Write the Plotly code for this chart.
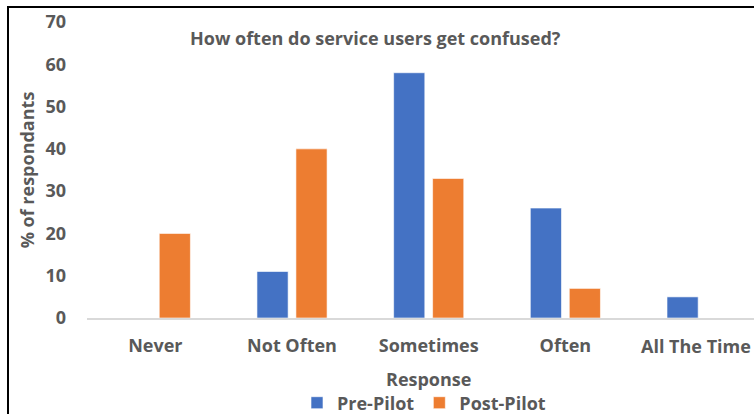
import plotly.graph_objects as go

categories = ["Never", "Not Often", "Sometimes", "Often", "All The Time"]
pre_pilot = [0, 11, 58, 26, 5]
post_pilot = [20, 40, 33, 7, 0]

title_text = "How often do service users get confused?"
y_title = "% of respondants"
x_title = "Response"

BLUE = "#4472C4"
ORANGE = "#ED7D31"
GREY = "#595959"
FONT = "Open Sans"

W, H = 754, 414
ML, MR, MT, MB = 87, 0, 22, 96
plot_w = W - ML - MR
plot_h = H - MT - MB


def px_to_paper_x(px):
    return (px - ML) / plot_w


def px_to_paper_y(py):
    return (H - MB - py) / plot_h


fig = go.Figure()
fig.add_trace(go.Bar(name="Pre-Pilot", x=categories, y=pre_pilot,
                     marker=dict(color=BLUE, line=dict(color="white", width=0.6))))
fig.add_trace(go.Bar(name="Post-Pilot", x=categories, y=post_pilot,
                     marker=dict(color=ORANGE, line=dict(color="white", width=0.6))))

fig.update_layout(
    width=W, height=H,
    margin=dict(l=ML, r=MR, t=MT, b=MB, pad=0, autoexpand=False),
    paper_bgcolor="white", plot_bgcolor="white",
    barmode="group", bargap=0.43, bargroupgap=0.2,
    font=dict(family=FONT, color=GREY, size=18),
    showlegend=True,
    legend=dict(orientation="h", xanchor="center", yanchor="middle",
                xref="container", yref="container",
                x=424 / W, y=(H - 403) / H,
                font=dict(family=FONT, size=18, color=GREY, weight="bold"),
                itemwidth=30, tracegroupgap=0, bgcolor="rgba(0,0,0,0)"),
)

# The last category label sits against the right edge, so it is drawn
# as a right-anchored annotation instead of a regular tick label.
tick_text = categories[:-1] + [""]

fig.update_xaxes(
    range=[-0.5, 4.38], showgrid=False, zeroline=False,
    showline=True, linecolor="#D9D9D9", linewidth=1.5,
    ticks="", ticklabelstandoff=11, automargin=False,
    tickmode="array", tickvals=categories, ticktext=tick_text,
    tickfont=dict(family=FONT, size=18, color=GREY, weight="bold"),
)
fig.update_yaxes(
    range=[0, 70], dtick=10, showgrid=False, zeroline=False, showline=False,
    ticks="", ticklabelstandoff=20, automargin=False,
    tickfont=dict(family=FONT, size=18, color=GREY, weight="bold"),
    title=dict(text=y_title, standoff=6,
               font=dict(family=FONT, size=18, color=GREY, weight="bold")),
)

fig.add_annotation(text=categories[-1], xref="paper", yref="paper",
                   x=px_to_paper_x(W - 1), y=px_to_paper_y(346),
                   xanchor="right", yanchor="middle", showarrow=False,
                   font=dict(family=FONT, size=18, color=GREY, weight="bold"))

# Chart title inside the plot area
fig.add_annotation(text=title_text, xref="paper", yref="paper",
                   x=px_to_paper_x(375), y=px_to_paper_y(38),
                   xanchor="center", yanchor="middle", showarrow=False,
                   font=dict(family=FONT, size=18, color=GREY, weight="bold"))

# Axis title for the category axis, centred under the middle category
fig.add_annotation(text=x_title, xref="x", yref="paper",
                   x=2, y=px_to_paper_y(379),
                   xanchor="center", yanchor="middle", showarrow=False,
                   font=dict(family=FONT, size=18, color=GREY, weight="bold"))

# Outer chart frame (left and top edges)
fig.add_shape(type="line", xref="paper", yref="paper",
              x0=px_to_paper_x(8), x1=px_to_paper_x(8),
              y0=px_to_paper_y(7), y1=px_to_paper_y(H + 2),
              line=dict(color="black", width=2))
fig.add_shape(type="line", xref="paper", yref="paper",
              x0=px_to_paper_x(7), x1=px_to_paper_x(W + 2),
              y0=px_to_paper_y(7), y1=px_to_paper_y(7),
              line=dict(color="black", width=2))

fig.write_html("out.html")
